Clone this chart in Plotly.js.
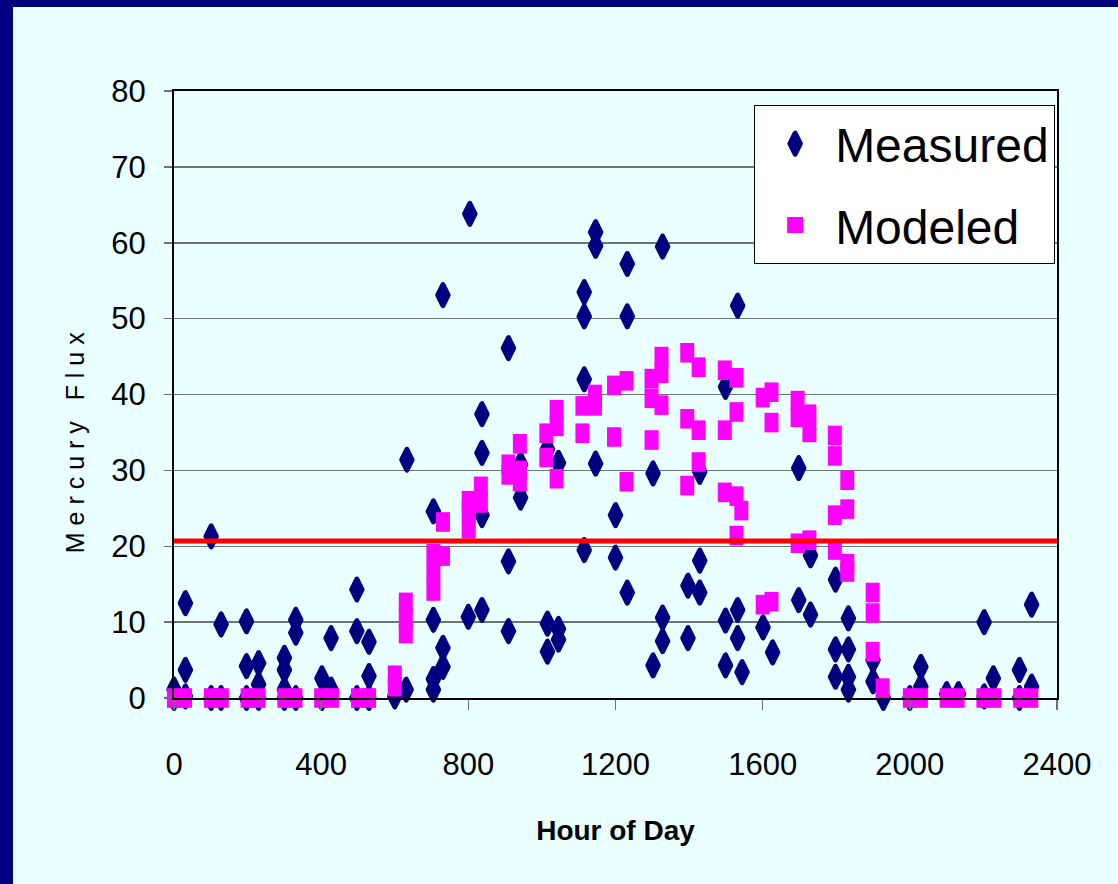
<!DOCTYPE html>
<html>
<head>
<meta charset="utf-8">
<script src="https://cdn.plot.ly/plotly-3.0.1.min.js"></script>
<style>
  html, body { margin: 0; padding: 0; background: #000080; width: 1118px; height: 884px; overflow: hidden; }
  #chart { position: absolute; left: 13px; top: 7px; width: 1105px; height: 877px; }
  #chart path.point, #chart path.scatterpts { stroke-linejoin: round; }
</style>
</head>
<body>
<div id="chart"></div>
<script>
// Measured mercury flux (hour of day in HHMM, flux)
const measuredHour = [
  0, 0, 31, 31, 31, 101, 101, 128, 128, 197, 197, 197, 230, 230, 230,
  300, 300, 300, 300, 331, 331, 331, 402, 402, 427, 427, 497, 497, 497,
  530, 530, 530, 600, 631, 633, 705, 705, 705, 705, 731, 731, 731,
  804, 800, 837, 837, 837, 837, 909, 909, 909, 942, 942,
  1015, 1015, 1015, 1045, 1045, 1045, 1115, 1115, 1115, 1115,
  1146, 1146, 1146, 1200, 1200, 1232, 1232, 1232, 1302, 1302,
  1328, 1328, 1328, 1397, 1397, 1429, 1429, 1429, 1499, 1499, 1499,
  1532, 1532, 1532, 1544, 1601, 1627, 1698, 1698, 1730, 1730,
  1798, 1798, 1798, 1833, 1833, 1833, 1833, 1900, 1900, 1928,
  2000, 2030, 2030, 2100, 2132, 2202, 2202, 2227, 2298, 2298, 2331, 2331
];
const measuredFlux = [
  1.1, 0, 12.5, 3.7, 0.2, 21.3, 0, 9.7, 0, 10.1, 4.2, 0, 4.6, 1.8, 0,
  5.3, 3.7, 1.1, 0, 10.3, 8.6, 0, 2.6, 0, 7.9, 1.1, 14.3, 8.8, 0,
  7.4, 2.9, 0, 0.2, 1.1, 31.4, 24.6, 10.3, 2.5, 1.1, 53.1, 6.6, 4.1,
  63.8, 10.7, 37.4, 32.3, 24.1, 11.6, 46.1, 18.0, 8.8, 30.8, 26.4,
  32.8, 9.8, 6.1, 31.0, 9.1, 7.7, 53.5, 50.3, 42.0, 19.5,
  61.4, 59.6, 30.9, 24.1, 18.5, 57.2, 50.3, 13.9, 29.6, 4.3,
  59.5, 10.6, 7.5, 14.8, 7.9, 29.8, 18.1, 13.9, 41.0, 10.2, 4.3,
  51.7, 11.6, 7.9, 3.4, 9.3, 6.0, 30.3, 12.9, 18.8, 11.0,
  15.6, 6.4, 2.8, 10.5, 6.4, 2.8, 1.1, 5.0, 2.2, 0,
  0, 4.1, 1.5, 0.5, 0.5, 10.0, 0.2, 2.6, 3.7, 0, 12.3, 1.5
];

// Modeled mercury flux
const modeledHour = [
  0, 30, 100, 130, 200, 230, 300, 330, 400, 430, 500, 530,
  600, 600, 630, 630, 630, 705, 705, 705, 731, 731,
  801, 801, 801, 834, 834, 909, 909, 940, 940, 940,
  1012, 1012, 1040, 1040, 1040, 1110, 1110, 1144, 1144,
  1196, 1196, 1230, 1230, 1298, 1298, 1298, 1325, 1325, 1325,
  1395, 1395, 1395, 1426, 1426, 1426, 1497, 1497, 1497,
  1529, 1529, 1529, 1529, 1542, 1600, 1600, 1624, 1624, 1624,
  1695, 1695, 1695, 1727, 1727, 1727, 1796, 1796, 1796, 1796,
  1830, 1830, 1830, 1830, 1899, 1899, 1899, 1926,
  2000, 2030, 2100, 2130, 2200, 2230, 2300, 2330
];
const modeledFlux = [
  0, 0, 0, 0, 0, 0, 0, 0, 0, 0, 0, 0,
  3.0, 1.5, 12.6, 10.5, 8.5, 19.0, 16.5, 14.1, 23.2, 18.7,
  26.0, 24.6, 22.3, 27.9, 25.7, 30.8, 29.4, 33.5, 30.0, 28.5,
  34.9, 31.7, 38.0, 35.8, 28.9, 38.5, 34.9, 40.0, 38.5,
  41.2, 34.4, 41.8, 28.5, 42.1, 39.5, 34.0, 45.0, 42.8, 38.6,
  45.5, 36.8, 28.0, 43.6, 35.3, 31.1, 43.2, 35.3, 27.1,
  42.2, 37.7, 26.6, 21.4, 24.7, 39.6, 12.3, 40.3, 36.3, 12.7,
  39.2, 37.0, 20.4, 37.4, 35.0, 20.8, 34.6, 31.9, 24.1, 19.5,
  28.7, 24.9, 17.7, 16.6, 13.9, 11.2, 6.1, 1.3,
  0, 0, 0, 0, 0, 0, 0, 0
];

// Reference level (red line)
const refHour = [0, 2400];
const refFlux = [20.7, 20.7];

const xTicks = [0, 400, 800, 1200, 1600, 2000, 2400];
const yTicks = [0, 10, 20, 30, 40, 50, 60, 70, 80];

const NAVY = '#000080';
const PINK = '#FF00FF';
const FONT = '"Liberation Sans", Arial, sans-serif';

const traces = [
  {
    type: 'scatter', mode: 'markers', name: 'Measured',
    x: measuredHour, y: measuredFlux, cliponaxis: false,
    legendgroup: 'a',
    marker: { symbol: 'diamond-tall', size: 15, color: NAVY, line: { color: NAVY, width: 5 } }
  },
  {
    type: 'scatter', mode: 'markers', name: 'Modeled',
    x: modeledHour, y: modeledFlux, cliponaxis: false,
    showlegend: false, legendgroup: 'b',
    marker: { symbol: 'line-ns', size: 14, color: PINK, line: { color: PINK, width: 14 } }
  },
  {
    type: 'scatter', mode: 'markers', name: 'Modeled',
    x: [null], y: [null], legendgroup: 'b',
    marker: { symbol: 'square', size: 16, color: PINK }
  },
  {
    type: 'scatter', mode: 'lines', name: 'Reference',
    x: refHour, y: refFlux, showlegend: false, cliponaxis: true,
    line: { color: '#FF0000', width: 5 }
  }
];

const layout = {
  width: 1105, height: 877,
  margin: { l: 161, r: 61, t: 84, b: 186 },
  paper_bgcolor: '#EAFFFF',
  plot_bgcolor: '#EAFFFF',
  showlegend: true,
  legend: {
    x: 0.657, y: 0.977, xanchor: 'left', yanchor: 'top',
    bgcolor: '#FFFFFF', bordercolor: '#000000', borderwidth: 1,
    font: { family: FONT, size: 48, color: '#000000' },
    traceorder: 'grouped', tracegroupgap: 16, itemwidth: 70
  },
  xaxis: {
    range: [0, 2400], tickvals: xTicks, ticktext: xTicks.map(String),
    showgrid: false, zeroline: false,
    showline: true, mirror: true, linecolor: '#000000', linewidth: 2,
    ticks: 'outside', ticklen: 10, tickcolor: '#707070', tickwidth: 1.5,
    ticklabelstandoff: 28,
    tickfont: { family: FONT, size: 31, color: '#000000' },
    title: { text: '<b>Hour of Day</b>', font: { family: FONT, size: 28, color: '#000000' }, standoff: 39 }
  },
  yaxis: {
    range: [0, 80], tickvals: yTicks, ticktext: yTicks.map(String),
    showgrid: true, gridcolor: '#6E7472', gridwidth: 1.5, zeroline: false,
    showline: true, mirror: true, linecolor: '#000000', linewidth: 2,
    ticks: 'outside', ticklen: 8, tickcolor: '#707070', tickwidth: 1.5,
    ticklabelstandoff: 12,
    tickfont: { family: FONT, size: 31, color: '#000000' }
  },
  annotations: [
    {
      text: 'M e r c u r y   F l u x', textangle: -90,
      xref: 'paper', yref: 'paper', x: -0.112, y: 0.42,
      xanchor: 'center', yanchor: 'middle', showarrow: false,
      font: { family: FONT, size: 25, color: '#000000' }
    }
  ]
};

Plotly.newPlot('chart', traces, layout, { displayModeBar: false, staticPlot: true });
</script>
</body>
</html>
